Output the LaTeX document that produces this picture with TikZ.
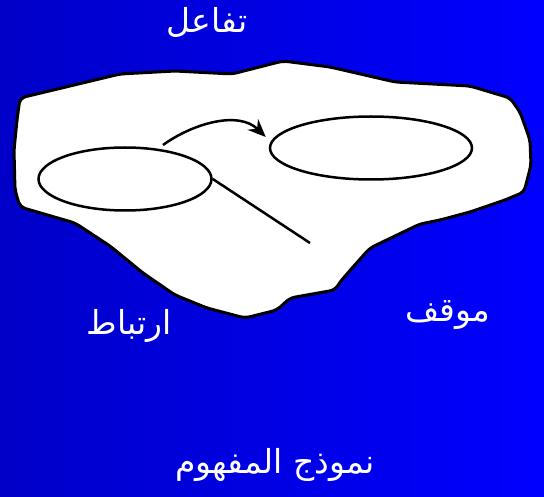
\documentclass[tikz,border=0pt]{standalone}
\usepackage{fontspec}
\newfontfamily\arabicfont[Script=Arabic]{DejaVu Sans}
\TeXXeTstate=1
\usetikzlibrary{shapes.geometric,arrows.meta}
\definecolor{DarkBlueClr}{RGB}{0,0,200}
\definecolor{LightBlueClr}{RGB}{0,0,255}

\tikzset{
  label/.style={text=white,font=\arabicfont\fontsize{33}{36}\selectfont},
  set/.style={ellipse,draw=black,line width=2.5pt,fill=white,inner sep=0pt},
  link/.style={line width=2.5pt,black}
}

\begin{document}
\begin{tikzpicture}[x=1pt,y=-1pt]
\useasboundingbox (0,0) rectangle (544,497);
\shade[left color=DarkBlueClr,right color=LightBlueClr] (0,0) rectangle (544,497);

% the situation
\draw[line width=3pt,fill=white,rounded corners=5pt]
  (20,98) -- (70,86) -- (120,74) -- (175,71) -- (232,74) -- (283,61)
  -- (330,67) -- (395,82) -- (470,86) -- (510,98) -- (520,112)
  -- (530,140) -- (531,165) -- (524,192) -- (505,200) -- (470,212)
  -- (440,220) -- (420,224) -- (395,236) -- (370,248) -- (353,267)
  -- (340,282) -- (335,290) -- (290,298) -- (277,310) -- (245,318)
  -- (207,308) -- (175,295) -- (143,273) -- (110,246) -- (75,223)
  -- (20,207) -- (15,190) -- (14,150) -- (17,120) -- cycle;

\node[set,minimum width=173pt,minimum height=63pt] (left) at (125,179) {};
\node[set,minimum width=202pt,minimum height=63pt] (right) at (371,148) {};

\coordinate (start) at (163,145);
\coordinate (tail) at (310,243);

\draw[link,-{Stealth[length=18pt,width=15pt,inset=6pt]}] (start) .. controls (192,124) and (238,110) .. ([xshift=-3pt,yshift=11pt]right.west);
\draw[link] (left.east) -- (tail);

\node[label] (interaction) at (207,22) {\beginR تفاعل\endR};
\node[label] (relation) at (129,326) {\beginR ارتباط\endR};
\node[label] (situation) at (448,315) {\beginR موقف\endR};
\node[label] (model) at (275,465) {\beginR نموذج المفهوم\endR};
\end{tikzpicture}
\end{document}
